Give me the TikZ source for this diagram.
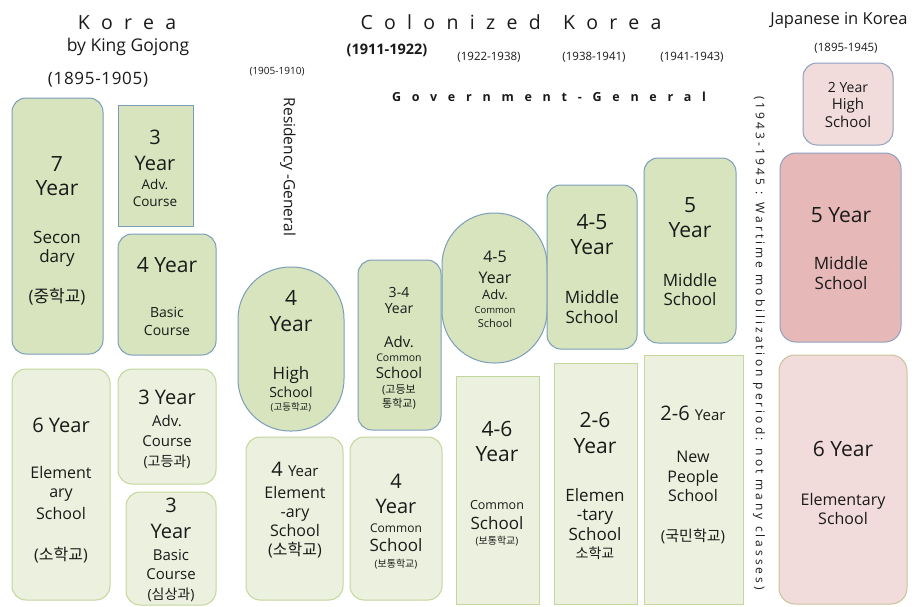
\documentclass[tikz,border=0pt]{standalone}
\usepackage{fontspec}
\setmainfont{Open Sans}
\newfontfamily\kr{Noto Sans CJK KR}
\newfontfamily\spacedA{Open Sans}[LetterSpace=58]
\newfontfamily\spacedB{Open Sans}[LetterSpace=86]
\newfontfamily\spacedV{Open Sans}[LetterSpace=25]
\newfontfamily\spacedT{Open Sans}[LetterSpace=4]
\definecolor{gfill}{HTML}{D7E4BD}
\definecolor{gline}{HTML}{7A9EBA}
\definecolor{lfill}{HTML}{EBF1DE}
\definecolor{lline}{HTML}{C3D69B}
\definecolor{pfill}{HTML}{F2DCDB}
\definecolor{pdark}{HTML}{E6B9B8}
\definecolor{pline}{HTML}{8EA0C0}
\definecolor{pline2}{HTML}{C9C29A}
\definecolor{ink}{HTML}{1A1A1A}
\definecolor{soft}{HTML}{3A3A3A}
\newcommand\sz[1]{\fontsize{#1}{#1}\selectfont}
\newcommand\boxat[6]{\node[#2, minimum width={#5-#3}, minimum height={#6-#4}] (#1) at ({(#3+#5)/2},{(#4+#6)/2}) {};}
\newcommand\putline[5]{\node[tx, font=#4] (#1) at (#2,#3) {#5};}
\begin{document}
\begin{tikzpicture}[x=1pt,y=-1pt,
  base/.style={draw, line width=1pt, inner sep=0pt, outer sep=0pt, rectangle},
  gbox/.style={base, fill=gfill, draw=gline, rounded corners=14pt},
  gsq/.style={base, fill=gfill, draw=gline},
  gstad/.style={base, fill=gfill, draw=gline, rounded corners=52pt},
  lbox/.style={base, fill=lfill, draw=lline, rounded corners=14pt},
  lsq/.style={base, fill=lfill, draw=lline},
  pbox/.style={base, fill=pfill, draw=pline, rounded corners=14pt},
  pdbox/.style={base, fill=pdark, draw=pline, rounded corners=16pt},
  pebox/.style={base, fill=pfill, draw=pline2, rounded corners=16pt},
  tx/.style={anchor=base, inner sep=0pt, text=ink},
  st/.style={text=soft}]
\useasboundingbox (0,0) rectangle (917,606);
\fill[white] (0,0) rectangle (917,606);

% ---------- titles ----------
\putline{t1}{127}{29}{\spacedA\sz{19.5}}{Korea}
\putline{t2}{128}{51}{\sz{17.5}}{by King Gojong}
\putline{t3}{98}{84}{\spacedT\sz{17}}{(1895-1905)}
\putline{t4}{277}{74}{\sz{10}}{(1905-1910)}
\node[anchor=center, inner sep=0pt, text=ink, font=\sz{15.5}, rotate=-90] (t5) at (288,167) {Residency -General};
\putline{t6}{511}{29}{\spacedA\sz{19.5}}{Colonized\hspace{6pt} Korea}
\putline{t7}{387}{54}{\bfseries\sz{14.5}}{(1911-1922)}
\putline{t8}{489}{60}{\sz{11.5}}{(1922-1938)}
\putline{t9}{594}{60}{\sz{11.5}}{(1938-1941)}
\putline{t10}{692}{60}{\sz{11.5}}{(1941-1943)}
\putline{t11}{549}{101}{\spacedB\bfseries\sz{12.5}}{Government-General}
\putline{t12}{839}{24}{\sz{16.5}}{Japanese in Korea}
\putline{t13}{846}{51}{\sz{11.5}}{(1895-1945)}
\node[anchor=center, inner sep=0pt, text=ink, font=\spacedV\sz{12}, rotate=-90] (t14) at (759,343) {(1943-1945 : Wartime mobilization period: not many classes)};

% ---------- boxes ----------
\boxat{b1}{gbox}{12}{98}{103}{354}
\boxat{b2}{gsq}{118}{105}{193}{226}
\boxat{b3}{gbox}{118}{234}{216}{355}
\boxat{b4}{lbox}{12}{369}{110}{600}
\boxat{b5}{lbox}{118}{369}{216}{484}
\boxat{b6}{lbox}{126}{492}{216}{605}
\boxat{b7}{gstad}{238}{267}{344}{431}
\boxat{b8}{gbox}{358}{260}{441}{430}
\boxat{b9}{lbox}{246}{437}{343}{600}
\boxat{b10}{lbox}{350}{437}{442}{600}
\boxat{b11}{gstad}{442}{213}{547}{363}
\boxat{b12}{gbox}{547}{185}{637}{349}
\boxat{b13}{gbox}{644}{158}{736}{343}
\boxat{b14}{lsq}{456}{376}{539}{604}
\boxat{b15}{lsq}{554}{363}{637}{604}
\boxat{b16}{lsq}{644}{355}{743}{604}
\boxat{b17}{pbox}{803}{63}{893}{145}
\boxat{b18}{pdbox}{780}{153}{901}{342}
\boxat{b19}{pebox}{779}{355}{907}{604}

% ---------- box texts ----------
% b1
\putline{b1a}{57}{171}{\sz{21}}{7}
\putline{b1b}{57}{195}{\sz{21}}{Year}
\putline{b1c}{57}{243}{\sz{17}}{Secon}
\putline{b1d}{57}{262}{\sz{17}}{dary}
\putline{b1e}{57}{302}{\sz{17}}{({\kr 중학교})}
% b2
\putline{b2a}{155}{144}{\sz{20}}{3}
\putline{b2b}{155}{170}{\sz{20}}{Year}
\putline{b2c}{155}{189}{\sz{13.5}\color{soft}}{Adv.}
\putline{b2d}{155}{206}{\sz{13.5}\color{soft}}{Course}
% b3
\putline{b3a}{167}{272}{\sz{21}}{4 Year}
\putline{b3b}{167}{317}{\sz{14}\color{soft}}{Basic}
\putline{b3c}{167}{335}{\sz{14}\color{soft}}{Course}
% b4
\putline{b4a}{61}{432}{\sz{20}}{6 Year}
\putline{b4b}{61}{478}{\sz{16}}{Element}
\putline{b4c}{61}{497}{\sz{16}}{ary}
\putline{b4d}{61}{519}{\sz{16}}{School}
\putline{b4e}{61}{560}{\sz{16}}{({\kr 소학교})}
% b5
\putline{b5a}{167}{404}{\sz{20}}{3 Year}
\putline{b5b}{167}{426}{\sz{15}}{Adv.}
\putline{b5c}{167}{446}{\sz{15}}{Course}
\putline{b5d}{167}{466}{\sz{14}}{({\kr 고등과})}
% b6
\putline{b6a}{171}{512}{\sz{20}}{3}
\putline{b6b}{171}{538}{\sz{20}}{Year}
\putline{b6c}{171}{560}{\sz{15}}{Basic}
\putline{b6d}{171}{579}{\sz{15}}{Course}
\putline{b6e}{171}{599}{\sz{14}}{({\kr 심상과})}
% b7
\putline{b7a}{291}{305}{\sz{21}}{4}
\putline{b7b}{291}{331}{\sz{21}}{Year}
\putline{b7c}{291}{379}{\sz{17}}{High}
\putline{b7d}{291}{397}{\sz{14}}{School}
\putline{b7e}{291}{410}{\sz{9.5}}{({\kr 고등학교})}
% b8
\putline{b8a}{399}{297}{\sz{14}\color{soft}}{3-4}
\putline{b8b}{399}{313}{\sz{14}\color{soft}}{Year}
\putline{b8c}{399}{347}{\sz{15}\color{soft}}{Adv.}
\putline{b8d}{399}{361}{\sz{10.5}}{Common}
\putline{b8e}{399}{378}{\sz{15}}{School}
\putline{b8f}{399}{393}{\sz{11}}{({\kr 고등보}}
\putline{b8g}{399}{407}{\sz{11}}{{\kr 통학교})}
% b9
\putline{b9a}{295}{476}{\sz{20}}{4 {\sz{15}Year}}
\putline{b9b}{295}{498}{\sz{16}}{Element}
\putline{b9c}{295}{517}{\sz{16}}{-ary}
\putline{b9d}{295}{536}{\sz{16}}{School}
\putline{b9e}{295}{555}{\sz{16}}{({\kr 소학교})}
% b10
\putline{b10a}{396}{488}{\sz{20}}{4}
\putline{b10b}{396}{513}{\sz{20}}{Year}
\putline{b10c}{396}{532}{\sz{12}\color{soft}}{Common}
\putline{b10d}{396}{551}{\sz{17}}{School}
\putline{b10e}{396}{567}{\sz{10}}{({\kr 보통학교})}
% b11
\putline{b11a}{495}{262}{\sz{16}}{4-5}
\putline{b11b}{495}{283}{\sz{16}}{Year}
\putline{b11c}{495}{299}{\sz{13}\color{soft}}{Adv.}
\putline{b11d}{495}{313}{\sz{9.5}}{Common}
\putline{b11e}{495}{327}{\sz{11}}{School}
% b12
\putline{b12a}{592}{229}{\sz{21}}{4-5}
\putline{b12b}{592}{254}{\sz{21}}{Year}
\putline{b12c}{592}{303}{\sz{17}}{Middle}
\putline{b12d}{592}{323}{\sz{17}}{School}
% b13
\putline{b13a}{690}{212}{\sz{21}}{5}
\putline{b13b}{690}{237}{\sz{21}}{Year}
\putline{b13c}{690}{286}{\sz{17}}{Middle}
\putline{b13d}{690}{305}{\sz{17}}{School}
% b14
\putline{b14a}{497}{436}{\sz{21}}{4-6}
\putline{b14b}{497}{461}{\sz{21}}{Year}
\putline{b14c}{497}{509}{\sz{12.5}\color{soft}}{Common}
\putline{b14d}{497}{529}{\sz{17}}{School}
\putline{b14e}{497}{544}{\sz{10}}{({\kr 보통학교})}
% b15
\putline{b15a}{595}{427}{\sz{21}}{2-6}
\putline{b15b}{595}{453}{\sz{21}}{Year}
\putline{b15c}{595}{501}{\sz{17}}{Elemen}
\putline{b15d}{595}{520}{\sz{17}}{-tary}
\putline{b15e}{595}{540}{\sz{17}}{School}
\putline{b15f}{595}{558}{\kr\sz{14}}{소학교}
% b16
\putline{b16a}{693}{420}{\sz{20}}{2-6 {\sz{15}Year}}
\putline{b16b}{693}{462}{\sz{16}\color{soft}}{New}
\putline{b16c}{693}{482}{\sz{16}}{People}
\putline{b16d}{693}{501}{\sz{16}}{School}
\putline{b16e}{693}{541}{\sz{15}}{({\kr 국민학교})}
% b17
\putline{b17a}{848}{92}{\sz{14}\color{soft}}{2 Year}
\putline{b17b}{848}{109}{\sz{15}\color{soft}}{High}
\putline{b17c}{848}{127}{\sz{15}\color{soft}}{School}
% b18
\putline{b18a}{841}{222}{\sz{21}}{5 Year}
\putline{b18b}{841}{269}{\sz{17}}{Middle}
\putline{b18c}{841}{289}{\sz{17}}{School}
% b19
\putline{b19a}{843}{456}{\sz{21}}{6 Year}
\putline{b19b}{843}{505}{\sz{16}}{Elementary}
\putline{b19c}{843}{524}{\sz{16}}{School}
\end{tikzpicture}
\end{document}
